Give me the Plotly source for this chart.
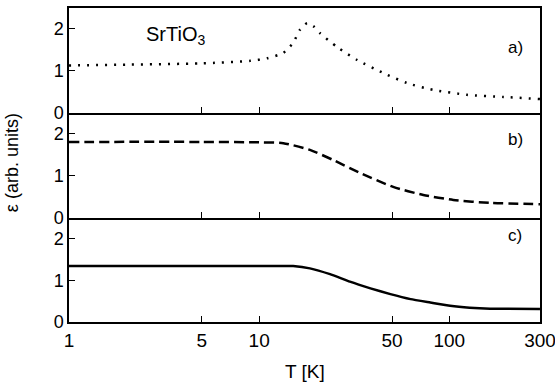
import numpy as np
import plotly.graph_objects as go
from plotly.subplots import make_subplots

# Panel a) dotted
T_a = [1, 2, 5, 9, 11, 13.4, 15.1, 16.4, 17.9, 19.5, 20.9, 25.7, 32.8, 45, 60, 82, 124, 192, 300]
eps_a = [1.13, 1.15, 1.18, 1.24, 1.3, 1.43, 1.67, 1.98, 2.14, 2.05, 1.9, 1.57, 1.26, 0.95, 0.71, 0.55, 0.43, 0.38, 0.33]

# Panel b) dashed
T_b = [1, 5, 10, 13.4, 18.5, 24.5, 34, 50.7, 73, 105, 164, 300]
eps_b = [1.81, 1.81, 1.8, 1.78, 1.62, 1.38, 1.07, 0.74, 0.55, 0.43, 0.36, 0.33]

# Panel c) solid
T_c = [1, 12.5, 15.1, 18.5, 23.6, 30, 38.5, 49, 62.6, 79.4, 101, 128, 164, 300]
eps_c = [1.35, 1.35, 1.345, 1.29, 1.15, 0.97, 0.81, 0.67, 0.55, 0.47, 0.39, 0.345, 0.32, 0.31]

x_tickvals = [1, 5, 10, 50, 100, 300]
x_ticktext = ["1", "5", "10", "50", "100", "300"]
y_tickvals = [0, 1, 2]
panel_labels = ["a)", "b)", "c)"]

FONT = "Liberation Sans, Arial, sans-serif"

fig = make_subplots(rows=3, cols=1, shared_xaxes=True, vertical_spacing=0)

fig.add_trace(go.Scatter(x=T_a, y=eps_a, mode="lines", line=dict(color="black", width=2.5, dash="2px,7px", shape="spline", smoothing=0.6)), row=1, col=1)
fig.add_trace(go.Scatter(x=T_b, y=eps_b, mode="lines", line=dict(color="black", width=2.5, dash="10px,5px", shape="spline", smoothing=0.6)), row=2, col=1)
fig.add_trace(go.Scatter(x=T_c, y=eps_c, mode="lines", line=dict(color="black", width=2.5, shape="spline", smoothing=0.4)), row=3, col=1)

domains = [[0.666, 1.0], [0.331, 0.666], [0.0, 0.331]]
for i in range(3):
    r = i + 1
    fig.update_yaxes(row=r, col=1, domain=domains[i], range=[0, 2.5], tickvals=y_tickvals,
                     ticks="inside", ticklen=6, tickwidth=1.2, tickcolor="black",
                     showline=True, linecolor="black", linewidth=1.5, mirror=True,
                     showgrid=False, zeroline=False, automargin=False,
                     tickfont=dict(family=FONT, size=18, color="black"))
    fig.update_xaxes(row=r, col=1, type="log", range=[0, np.log10(300) + 1e-4],
                     tickvals=x_tickvals, ticktext=x_ticktext,
                     ticks="inside", ticklen=6, tickwidth=1.2, tickcolor="black",
                     showline=True, linecolor="black", linewidth=1.5, mirror=(r == 1),
                     showgrid=False, zeroline=False, showticklabels=(r == 3),
                     ticklabeloverflow="allow", automargin=False,
                     tickfont=dict(family=FONT, size=19, color="black"))

annotations = [
    dict(text="SrTiO<sub>3</sub>", x=0.159, y=0.914, xanchor="left", yanchor="middle", font=dict(size=20)),
    dict(text=panel_labels[0], x=0.947, y=0.873, xanchor="center", yanchor="middle", font=dict(size=17)),
    dict(text=panel_labels[1], x=0.947, y=0.580, xanchor="center", yanchor="middle", font=dict(size=17)),
    dict(text=panel_labels[2], x=0.947, y=0.274, xanchor="center", yanchor="middle", font=dict(size=17)),
    dict(text="T [K]", x=0.5, y=-0.159, xanchor="center", yanchor="middle", font=dict(size=19)),
    dict(text="ε (arb. units)", x=-0.121, y=0.506, xanchor="center", yanchor="middle", textangle=-90, font=dict(size=18)),
]
for a in annotations:
    a.update(xref="paper", yref="paper", showarrow=False)
    a["font"].update(family=FONT, color="black")

fig.update_layout(
    width=555, height=387,
    margin=dict(l=69, r=15, t=8, b=65, autoexpand=False),
    paper_bgcolor="white", plot_bgcolor="white",
    showlegend=False,
    annotations=annotations,
    font=dict(family=FONT, color="black"),
)

fig.write_html("out.html", config={"displayModeBar": False},
               post_script="document.body.style.margin='0';document.body.style.overflow='hidden';")
